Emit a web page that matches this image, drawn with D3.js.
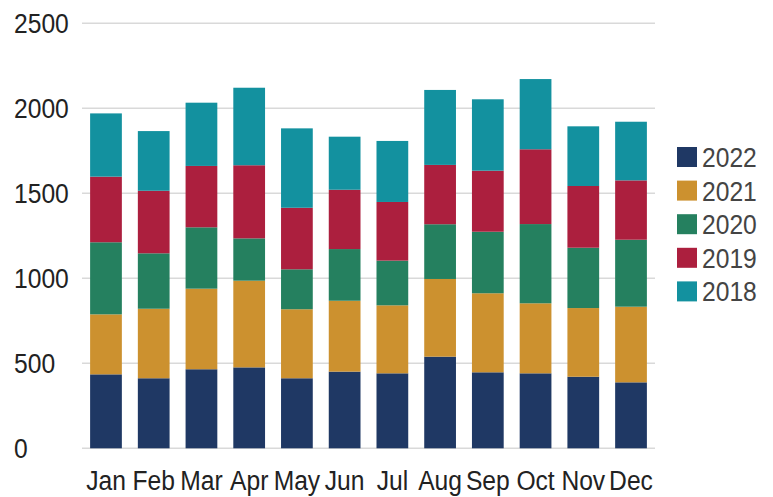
<!DOCTYPE html>
<html>
<head>
<meta charset="utf-8">
<script src="https://cdn.jsdelivr.net/npm/d3@7"></script>
<style>
  body { margin: 0; background: #fff; }
  svg { display: block; font-family: "Liberation Sans", Arial, sans-serif; }
</style>
</head>
<body>
<svg id="chart" width="773" height="497"></svg>
<script>
// months and yearly values (stack order bottom -> top)
var months = ["Jan", "Feb", "Mar", "Apr", "May", "Jun", "Jul", "Aug", "Sep", "Oct", "Nov", "Dec"];
var years = ["2022", "2021", "2020", "2019", "2018"];
var v2022 = [435, 412, 465, 476, 412, 451, 441, 539, 447, 441, 421, 388];
var v2021 = [353, 409, 474, 510, 406, 417, 400, 457, 465, 412, 404, 445];
var v2020 = [424, 326, 361, 249, 235, 304, 263, 322, 362, 466, 355, 394];
var v2019 = [386, 368, 361, 430, 362, 349, 345, 349, 359, 440, 363, 349];
var v2018 = [372, 351, 372, 456, 467, 312, 359, 441, 420, 413, 351, 345];
var yTicks = [0, 500, 1000, 1500, 2000, 2500];
var colors = ["#1f3864", "#cc912f", "#25805f", "#ac1f3e", "#13919f"];

var series = {"2022": v2022, "2021": v2021, "2020": v2020, "2019": v2019, "2018": v2018};
var table = months.map(function (m, i) {
   var row = {month: m};
   years.forEach(function (y) { row[y] = series[y][i]; });
   return row;
});

var svg = d3.select("#chart");

var x = d3.scaleBand()
      .domain(months)
      .range([82, 655])
      .paddingInner(0.335)
      .paddingOuter(0.17);

var y = d3.scaleLinear()
      .domain([0, 2500])
      .range([448.3, 23.3]);

var color = d3.scaleOrdinal().domain(years).range(colors);

// gridlines
svg.append("g")
   .selectAll("line")
   .data(yTicks)
   .enter().append("line")
   .attr("x1", 82)
   .attr("x2", 655)
   .attr("y1", function (d) { return y(d); })
   .attr("y2", function (d) { return y(d); })
   .attr("stroke", "#d9d9d9")
   .attr("stroke-width", 1.5);

// y tick labels (left aligned)
svg.append("g")
   .selectAll("text")
   .data(yTicks)
   .enter().append("text")
   .attr("transform", function (d) { return "translate(14," + (y(d) + 10) + ") scale(0.88,1)"; })
   .attr("font-size", 28)
   .attr("fill", "#222")
   .text(function (d) { return d; });

// stacked bars
var stack = d3.stack().keys(years)(table);

svg.append("g")
   .selectAll("g")
   .data(stack)
   .enter().append("g")
   .attr("fill", function (d) { return color(d.key); })
   .selectAll("rect")
   .data(function (d) { return d; })
   .enter().append("rect")
   .attr("x", function (d) { return x(d.data.month); })
   .attr("width", x.bandwidth())
   .attr("y", function (d) { return y(d[1]); })
   .attr("height", function (d) { return y(d[0]) - y(d[1]); });

// x labels
svg.append("g")
   .selectAll("text")
   .data(months)
   .enter().append("text")
   .attr("transform", function (d) { return "translate(" + (x(d) + x.bandwidth() / 2) + ",490) scale(0.88,1)"; })
   .attr("text-anchor", "middle")
   .attr("font-size", 28)
   .attr("fill", "#222")
   .text(function (d) { return d; });

// legend
var legend = svg.append("g")
   .selectAll("g")
   .data(years)
   .enter().append("g")
   .attr("transform", function (d, i) { return "translate(677," + (147 + i * 33.6) + ")"; });

legend.append("rect")
   .attr("width", 20)
   .attr("height", 20)
   .attr("fill", function (d) { return color(d); });

legend.append("text")
   .attr("transform", "translate(25,20) scale(0.88,1)")
   .attr("font-size", 28)
   .attr("fill", "#444")
   .text(function (d) { return d; });
</script>
</body>
</html>
